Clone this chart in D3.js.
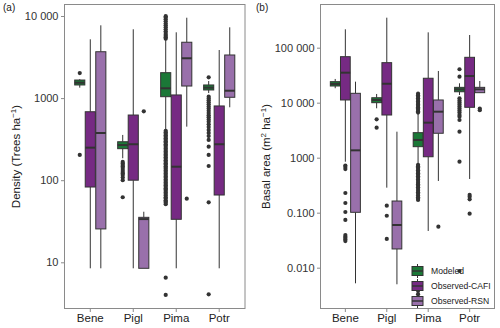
<!DOCTYPE html>
<html>
<head>
<meta charset="utf-8">
<script src="https://cdn.jsdelivr.net/npm/d3@7"></script>
<style>
  html, body { margin: 0; padding: 0; background: #fff; }
  svg { display: block; font-family: "Liberation Sans", Arial, sans-serif; }
</style>
</head>
<body>
<svg id="chart" width="500" height="328"></svg>
<script>
// ---------- data ----------
const categories = ["Bene", "Pigl", "Pima", "Potr"];
const seriesNames = ["Modeled", "Observed-CAFI", "Observed-RSN"];
const seriesColors = ["#1b7837", "#762a83", "#9970ab"];

// box stats per category: [lower whisker, Q1, median, Q3, upper whisker]
const densityModeled = [[1340, 1445, 1540, 1660, 1700], [185, 242, 268, 294, 356], [408, 1040, 1316, 2040, 5100], [1153, 1256, 1340, 1445, 1614]];
const densityCAFI    = [[8.45, 82.6, 249, 682, 5200], [8.45, 100, 274, 622, 6890], [8.45, 33.4, 146, 1092, 6330], [8.45, 66, 274, 802, 3853]];
const densityRSN     = [[8.45, 25.5, 376, 3670, 7700], [8.45, 8.45, 33.6, 35.3, 41.3], [449, 1403, 3056, 4790, 9530], [773, 1023, 1230, 3350, 7280]];

const densityModeledOut = [
  [2020, 203],
  [167, 160, 153, 147, 141, 133, 126, 121, 116, 108, 100, 62],
  [5300, 5500, 5700, 5900, 6200, 6500, 6900, 7300, 7700, 8100, 8600, 9100, 9600, 9950,
   400, 384, 368, 353, 339, 325, 312, 299, 287, 275, 264, 253, 243, 233, 224, 215, 206, 198, 190, 182,
   175, 168, 161, 155, 148, 142, 137, 131, 126, 121, 116, 111, 107, 102, 98, 94, 90, 87, 83, 80,
   77, 74, 71, 68, 65, 62, 60, 57, 55, 53, 51, 6.5, 4.0],
  [1790, 1040, 990, 940, 890, 840, 790, 745, 700, 660, 620, 585, 550, 516, 480, 445, 410, 376, 345, 309, 256, 203, 149, 53.8, 4.07]
];
const densityCAFIOut = [[], [], [], []];
const densityRSNOut  = [[], [690], [59.6], []];

const basalModeled = [[18.3, 20.1, 21.9, 24.1, 27.0], [7.9, 10.0, 11.2, 12.3, 14.4], [0.80, 1.585, 2.10, 2.85, 6.41], [13.8, 15.8, 17.5, 19.0, 22.5]];
const basalCAFI    = [[0.845, 11.2, 35.1, 68.6, 216], [0.285, 5.97, 22.1, 53.4, 351], [0.0465, 1.04, 4.33, 27.8, 190], [0.41, 8.24, 30.5, 66.8, 170]];
const basalRSN     = [[0.0052, 0.1016, 1.36, 14.8, 24.1], [0.00499, 0.0219, 0.0597, 0.163, 2.97], [0.377, 2.78, 6.86, 11.2, 37.7], [15.0, 15.2, 17.5, 19.0, 24.8]];

const basalModeledOut = [
  [],
  [4.99, 3.51],
  [6.6, 7.0, 7.4, 7.8, 8.3, 8.8, 9.3, 9.9, 10.5, 11.2, 12.0, 12.8, 13.7, 14.6,
   0.74, 0.70, 0.66, 0.62, 0.59, 0.55, 0.52, 0.49, 0.46, 0.43, 0.40, 0.375, 0.35, 0.33, 0.31, 0.29,
   0.27, 0.25, 0.235, 0.22, 0.205, 0.19, 0.18, 0.17,
   0.0043, 0.0038, 0.0033, 0.0029],
  [40.5, 29.7, 12.0, 11.0, 10.1, 9.3, 8.5, 7.8, 7.2, 6.6, 6.0, 5.56, 4.84, 2.97, 0.845, 0.0087]
];
const basalCAFIOut = [
  [0.72, 0.68, 0.62, 0.228, 0.150, 0.103, 0.0737, 0.0393, 0.0365, 0.0347, 0.0325, 0.0305],
  [0.134, 0.088, 0.0333],
  [],
  [0.21, 0.195, 0.175, 0.096]
];
const basalRSNOut = [[], [], [0.0556], [7.8, 7.3]];

const densityTicks = [10, 100, 1000, 10000];
const densityTickLabels = ["10", "100", "1000", "10 000"];
const basalTicks = [0.01, 0.1, 1, 10, 100];
const basalTickLabels = ["0.010", "0.100", "1000", "10 000", "100 000"];

// ---------- drawing ----------
const svg = d3.select("#chart");
const stroke = "#333333";
const borderCol = "#8a8a8a";

function panel(opts) {
  const { x0, x1, y0, y1, domain, stats, outs, ticks, tickLabels, label, title, titleX } = opts;
  const g = svg.append("g");
  const x = d3.scaleBand().domain(categories).range([x0, x1]).paddingInner(0).paddingOuter(0.1);
  const y = d3.scaleLog().domain(domain).range([y1, y0]);
  const step = x.step();
  const off = step * 0.245;
  const bw = step * 0.235;

  stats.forEach((s, si) => {
    categories.forEach((c, ci) => {
      const d = s[ci];
      const cx = x(c) + x.bandwidth() / 2 + (si - 1) * off;
      const bg = g.append("g");
      bg.selectAll("circle").data(outs[si][ci]).join("circle")
        .attr("cx", cx).attr("cy", v => y(v)).attr("r", 2.1)
        .attr("fill", stroke);
      bg.append("line").attr("x1", cx).attr("x2", cx)
        .attr("y1", y(d[4])).attr("y2", y(d[3]))
        .attr("stroke", stroke).attr("stroke-width", 1);
      bg.append("line").attr("x1", cx).attr("x2", cx)
        .attr("y1", y(d[1])).attr("y2", y(d[0]))
        .attr("stroke", stroke).attr("stroke-width", 1);
      bg.append("rect").attr("x", cx - bw / 2).attr("width", bw)
        .attr("y", y(d[3])).attr("height", Math.max(0.5, y(d[1]) - y(d[3])))
        .attr("fill", seriesColors[si]).attr("stroke", stroke).attr("stroke-width", 1);
      bg.append("line").attr("x1", cx - bw / 2).attr("x2", cx + bw / 2)
        .attr("y1", y(d[2])).attr("y2", y(d[2]))
        .attr("stroke", stroke).attr("stroke-width", 2);
    });
  });

  g.append("rect").attr("x", x0).attr("y", y0).attr("width", x1 - x0).attr("height", y1 - y0)
    .attr("fill", "none").attr("stroke", borderCol).attr("stroke-width", 1);

  const ya = g.append("g").attr("transform", `translate(${x0},0)`)
    .call(d3.axisLeft(y).tickValues(ticks).tickFormat((v, i) => tickLabels[i]).tickSize(3.5).tickPadding(2.5));
  ya.select(".domain").remove();
  ya.selectAll(".tick line").attr("stroke", borderCol);
  ya.selectAll(".tick text").attr("fill", "#333").attr("font-size", 11)
    .attr("font-family", "Liberation Sans, Arial, sans-serif");

  const xa = g.append("g").attr("transform", `translate(0,${y1})`)
    .call(d3.axisBottom(x).tickSize(3.5).tickPadding(2));
  xa.select(".domain").remove();
  xa.selectAll(".tick line").attr("stroke", borderCol);
  xa.selectAll(".tick text").attr("fill", "#222").attr("font-size", 11.5)
    .attr("font-family", "Liberation Sans, Arial, sans-serif");

  svg.append("text").attr("x", label.x).attr("y", 11).attr("font-size", 10).attr("fill", "#222").text(label.t);

  const t = svg.append("text")
    .attr("transform", `translate(${titleX},${(y0 + y1) / 2}) rotate(-90)`)
    .attr("text-anchor", "middle").attr("font-size", 11.5).attr("fill", "#222");
  title(t);
  return { x, y };
}

panel({
  x0: 64.5, x1: 245, y0: 4.5, y1: 308.5,
  domain: [2.737, 13804],
  stats: [densityModeled, densityCAFI, densityRSN],
  outs: [densityModeledOut, densityCAFIOut, densityRSNOut],
  ticks: densityTicks, tickLabels: densityTickLabels,
  label: { x: 3, t: "(a)" },
  titleX: 20,
  title: t => {
    t.append("tspan").text("Density (Trees ha");
    t.append("tspan").attr("font-size", 8).attr("dy", -4.5).text("−1");
    t.append("tspan").attr("dy", 4.5).text(")");
  }
});

panel({
  x0: 320.5, x1: 494.5, y0: 4.5, y1: 308.5,
  domain: [0.001811, 609.6],
  stats: [basalModeled, basalCAFI, basalRSN],
  outs: [basalModeledOut, basalCAFIOut, basalRSNOut],
  ticks: basalTicks, tickLabels: basalTickLabels,
  label: { x: 256, t: "(b)" },
  titleX: 270,
  title: t => {
    t.append("tspan").text("Basal area (m");
    t.append("tspan").attr("font-size", 8).attr("dy", -4.5).text("2");
    t.append("tspan").attr("dy", 4.5).text(" ha");
    t.append("tspan").attr("font-size", 8).attr("dy", -4.5).text("−1");
    t.append("tspan").attr("dy", 4.5).text(")");
  }
});

// legend
const lg = svg.append("g");
seriesNames.forEach((name, i) => {
  const cy = 271 + i * 15;
  const kx = 417.5;
  lg.append("line").attr("x1", kx).attr("x2", kx).attr("y1", cy - 7).attr("y2", cy + 7)
    .attr("stroke", stroke).attr("stroke-width", 1);
  lg.append("rect").attr("x", kx - 5.5).attr("y", cy - 4.5).attr("width", 11).attr("height", 9)
    .attr("fill", seriesColors[i]).attr("stroke", stroke).attr("stroke-width", 1);
  lg.append("line").attr("x1", kx - 5.5).attr("x2", kx + 5.5).attr("y1", cy).attr("y2", cy)
    .attr("stroke", stroke).attr("stroke-width", 1.5);
  lg.append("text").attr("x", 431).attr("y", cy + 3).attr("font-size", 8.6).attr("fill", "#222").text(name);
});
</script>
</body>
</html>
